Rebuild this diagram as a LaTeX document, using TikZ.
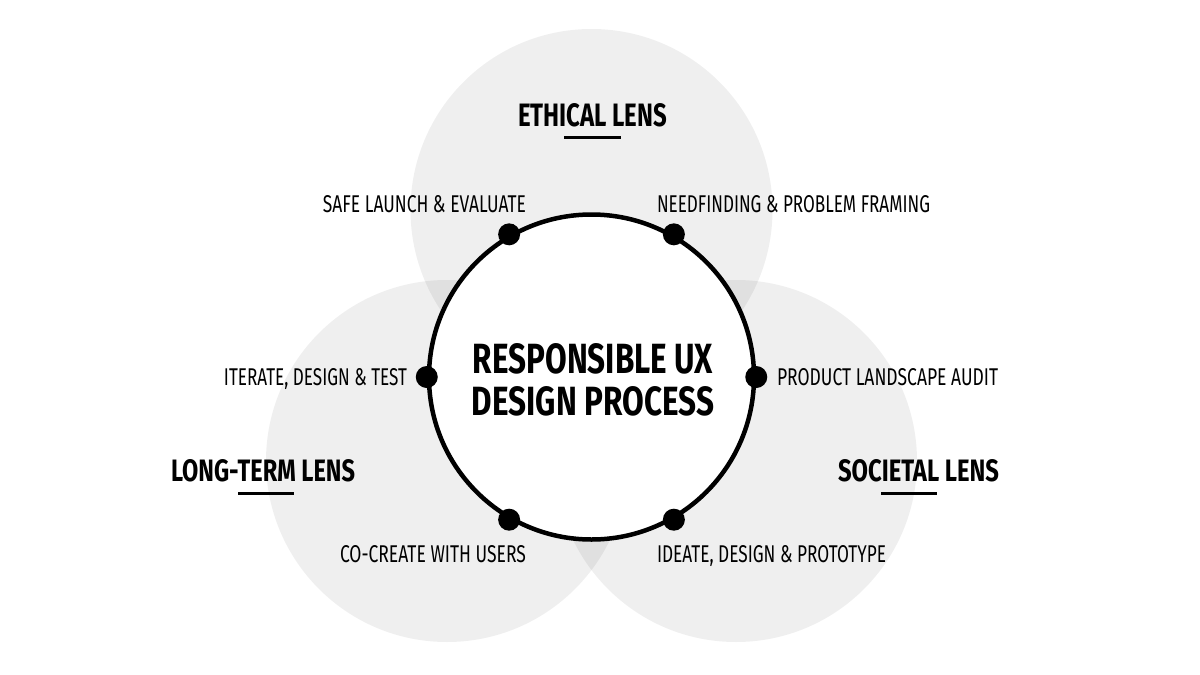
\documentclass[tikz,border=0pt]{standalone}
\usepackage{fontspec}
\usepackage{graphicx}
\setmainfont{Fira Sans}
\newcommand\fitbox[3]{\resizebox{#1pt}{#2pt}{#3}}
\tikzset{
  lens/.style={fill=black, fill opacity=0.063},
  core/.style={circle, draw=black, line width=4.5pt, fill=white, minimum size=325pt, inner sep=0pt},
  stagedot/.style={circle, fill=black, minimum size=22pt, inner sep=0pt},
  txt/.style={inner sep=0pt, outer sep=0pt, text=black},
  uline/.style={line width=3pt, line cap=butt}
}
\begin{document}
\begin{tikzpicture}[x=1pt,y=-1pt]
\useasboundingbox (0,0) rectangle (1200,675);
\fill[white] (0,0) rectangle (1200,675);
% lenses
\fill[lens] (591.5,210) circle (181);
\fill[lens] (447,461) circle (181);
\fill[lens] (736,461) circle (181);
% core
\node[core] (core) at (591.5,377) {};
\node[stagedot] (d1) at (core.60) {};
\node[stagedot] (d2) at (core.120) {};
\node[stagedot] (d3) at (core.180) {};
\node[stagedot] (d4) at (core.240) {};
\node[stagedot] (d5) at (core.300) {};
\node[stagedot] (d6) at (core.0) {};
% center title
\node[txt, anchor=base] (t1) at (593,373) {\bfseries\fitbox{240}{30}{RESPONSIBLE UX}};
\node[txt, anchor=base] (t2) at (593,415) {\bfseries\fitbox{242}{29}{DESIGN PROCESS}};
% lens titles
\node[txt, anchor=base west] (eth) at (518,126) {\bfseries\fitbox{149}{23}{ETHICAL LENS}};
\node[txt, anchor=base west] (lt) at (171,481) {\bfseries\fitbox{184}{22}{LONG-TERM LENS}};
\node[txt, anchor=base west] (soc) at (838,481) {\bfseries\fitbox{161}{22}{SOCIETAL LENS}};
\draw[uline] (564,137) -- (621,137);
\draw[uline] (238,493) -- (294,493);
\draw[uline] (881,493) -- (937,493);
% stage labels
\node[txt, anchor=base east] (l2) at (526,212) {\fitbox{203}{17}{SAFE LAUNCH \& EVALUATE}};
\node[txt, anchor=base west] (l1) at (657,212) {\fitbox{273}{17}{NEEDFINDING \& PROBLEM FRAMING}};
\node[txt, anchor=base east] (l3) at (407,385) {\fitbox{183}{17}{ITERATE, DESIGN \& TEST}};
\node[txt, anchor=base west] (l6) at (777,385) {\fitbox{221}{17}{PRODUCT LANDSCAPE AUDIT}};
\node[txt, anchor=base east] (l4) at (526,562) {\fitbox{186}{17}{CO-CREATE WITH USERS}};
\node[txt, anchor=base west] (l5) at (657,562) {\fitbox{229}{17}{IDEATE, DESIGN \& PROTOTYPE}};
\end{tikzpicture}
\end{document}
